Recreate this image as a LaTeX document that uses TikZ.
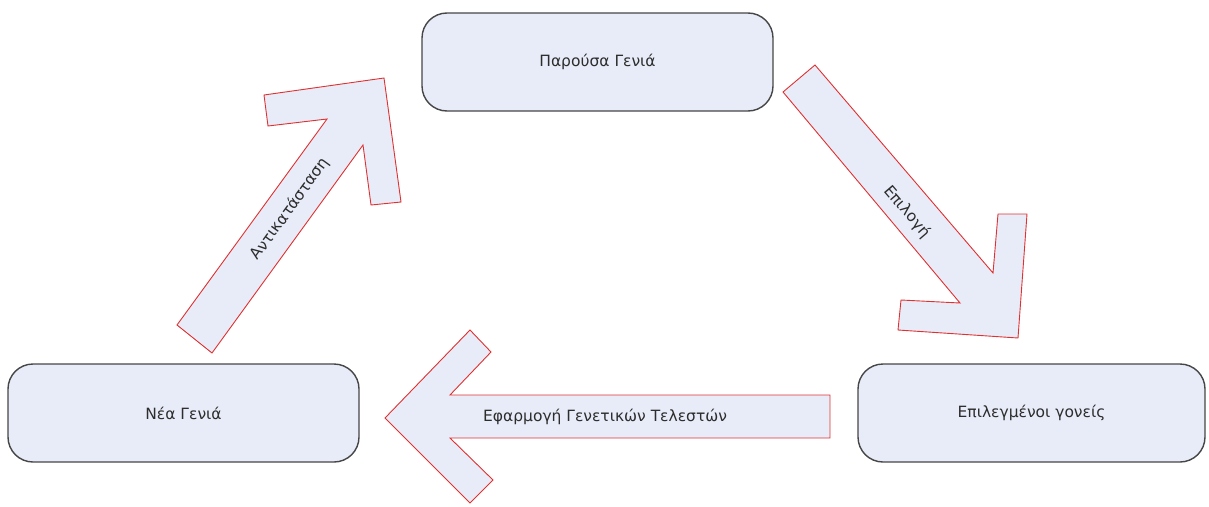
\documentclass[tikz,border=0pt]{standalone}
\usepackage{fontspec}
\setmainfont{DejaVu Sans}
\definecolor{boxfill}{RGB}{232,236,248}
\definecolor{boxline}{RGB}{70,70,70}
\definecolor{arrowline}{RGB}{224,48,48}
\definecolor{txt}{RGB}{45,45,45}
\tikzset{
  stage/.style={draw=boxline, line width=1.4pt, fill=boxfill, rounded corners=25pt,
    minimum width=351pt, minimum height=98pt, text=txt, font=\fontsize{15.5}{18}\selectfont},
  blockarrow/.style={draw=arrowline, line width=0.9pt, fill=boxfill, line join=miter},
  arrowlabel/.style={text=txt, font=\fontsize{15.5}{18}\selectfont, inner sep=0pt}
}
\begin{document}
\begin{tikzpicture}[x=1pt,y=-1pt]
\useasboundingbox (0,0) rectangle (1209,506);

% the three stages of the cycle
\node[stage] (current) at (597.5,62) {Παρούσα Γενιά};
\node[stage] (newgen) at (183.5,413) {Νέα Γενιά};
\node[stage, minimum width=347pt] (parents) at (1031.5,413) {Επιλεγμένοι γονείς};

% replacement: new generation -> current generation
\draw[blockarrow] (177,325) -- (327,119) -- (268,126) -- (264,95) -- (384,78)
  -- (401,202) -- (371,205) -- (363,145) -- (212,353) -- cycle;
\node[arrowlabel, rotate=54] (replace) at (290,209) {Αντικατάσταση};

% selection: current generation -> selected parents
\draw[blockarrow] (783,92) -- (815,65) -- (993,273) -- (998,214) -- (1027,214)
  -- (1018,338) -- (898,330) -- (901,300) -- (960,303) -- cycle;
\node[arrowlabel, rotate=-49.4] (select) at (907,212) {Επιλογή};

% genetic operators: selected parents -> new generation
\draw[blockarrow] (385,418) -- (470,330) -- (491,352) -- (450,395) -- (830,395)
  -- (830,438) -- (450,438) -- (493,480) -- (470,503) -- cycle;
\node[arrowlabel] (operators) at (605,417) {Εφαρμογή Γενετικών Τελεστών};
\end{tikzpicture}
\end{document}
